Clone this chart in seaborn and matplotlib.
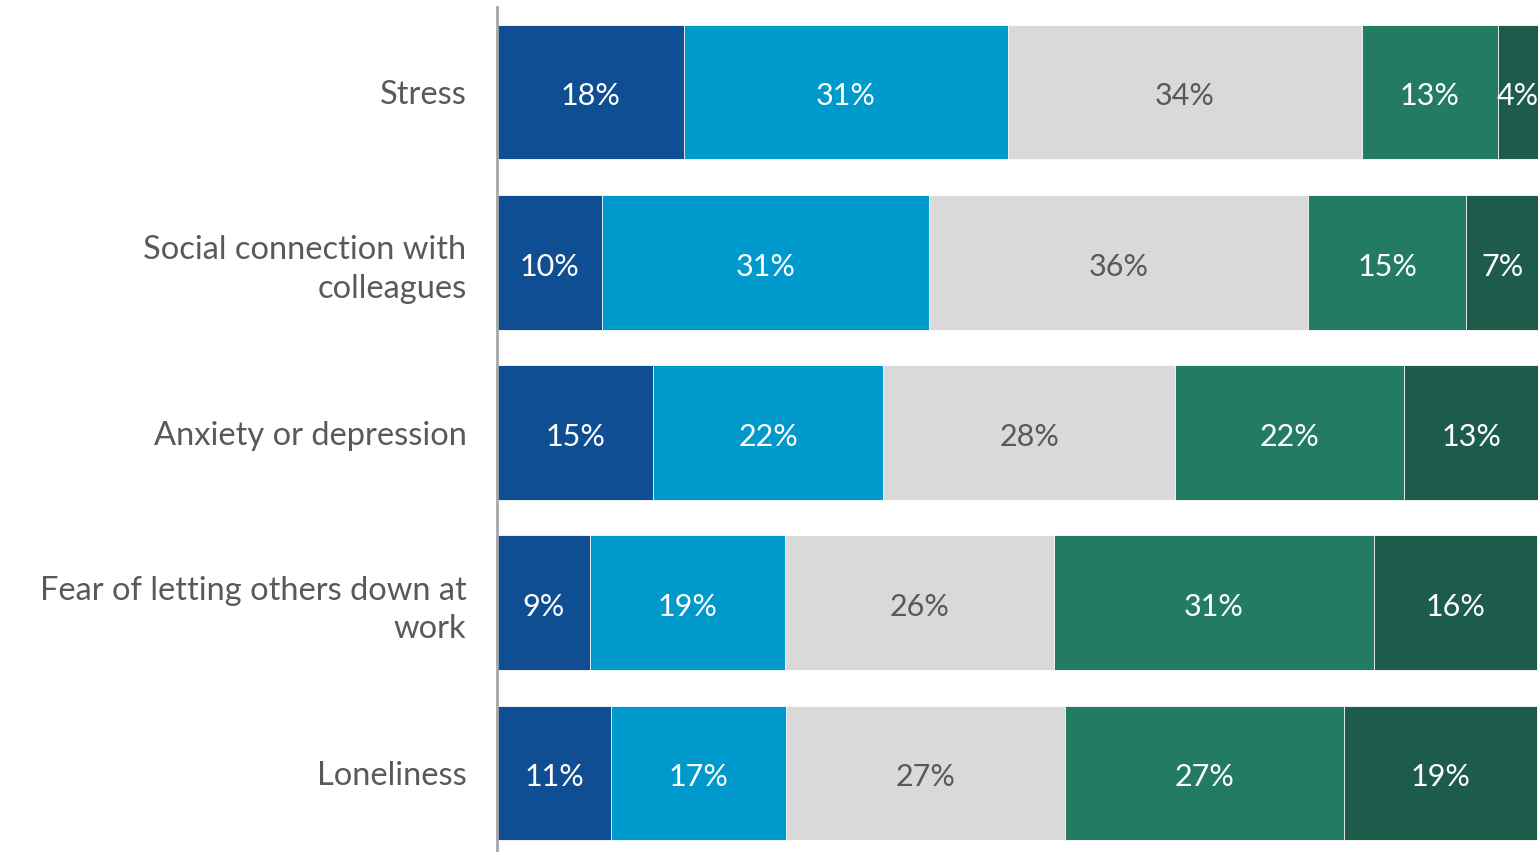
import matplotlib
matplotlib.use("Agg")
import matplotlib.pyplot as plt
import seaborn as sns
import pandas as pd
import numpy as np

# Categories (top to bottom)
categories = ["Stress", "Social connection with\ncolleagues", "Anxiety or depression",
              "Fear of letting others down at\nwork", "Loneliness"]

# Segment shares (%), left to right
seg1 = [17.96, 10.1, 15.0, 8.9, 10.95]
seg2 = [31.1, 31.4, 22.1, 18.8, 16.8]
seg3 = [34.0, 36.4, 28.05, 25.8, 26.8]
seg4 = [13.06, 15.2, 22.0, 30.7, 26.8]
seg5 = [3.84, 6.9, 12.9, 15.7, 18.6]

segments = [seg1, seg2, seg3, seg4, seg5]
colors = ["#104E94", "#0099CC", "#D9D9D9", "#237B63", "#1D5C4B"]
label_colors = ["white", "white", "#595959", "white", "white"]

font = ["Lato", "DejaVu Sans"]

sns.set_style("white")
plt.rcParams['font.family'] = font

fig = plt.figure(figsize=(15.38, 8.52), dpi=100)
ax = fig.add_axes([497 / 1538, -6 / 852, 1041 / 1538, 851 / 852])

vals = np.array(segments)
cum = np.cumsum(vals, axis=0)

# draw cumulative bars from the outermost segment inward
for j in range(len(segments) - 1, -1, -1):
    df = pd.DataFrame({"cat": categories, "val": cum[j]})
    sns.barplot(data=df, x="val", y="cat", orient="h", color=colors[j],
                width=0.79, edgecolor="white", linewidth=0.6,
                saturation=1, ax=ax)

# value labels
for j, seg in enumerate(segments):
    for i, v in enumerate(seg):
        centre = cum[j][i] - v / 2
        ax.text(centre, i + 0.01, f"{round(v)}%", ha="center", va="center_baseline",
                fontsize=22, color=label_colors[j], clip_on=False)

ax.set_xlim(0, 100)
ax.set_ylim(4.5, -0.5)
ax.set_xlabel("")
ax.set_ylabel("")
ax.set_xticks([])
ax.tick_params(axis="y", length=0, pad=22, labelsize=23.5, labelcolor="#595959")
for lbl in ax.get_yticklabels():
    lbl.set_horizontalalignment("right")
    lbl.set_multialignment("right")
    lbl.set_linespacing(1.35)

for side in ["top", "right", "bottom"]:
    ax.spines[side].set_visible(False)
ax.spines["left"].set_color("#A6A6A6")
ax.spines["left"].set_linewidth(2)

fig.savefig("out.png", dpi=100)
